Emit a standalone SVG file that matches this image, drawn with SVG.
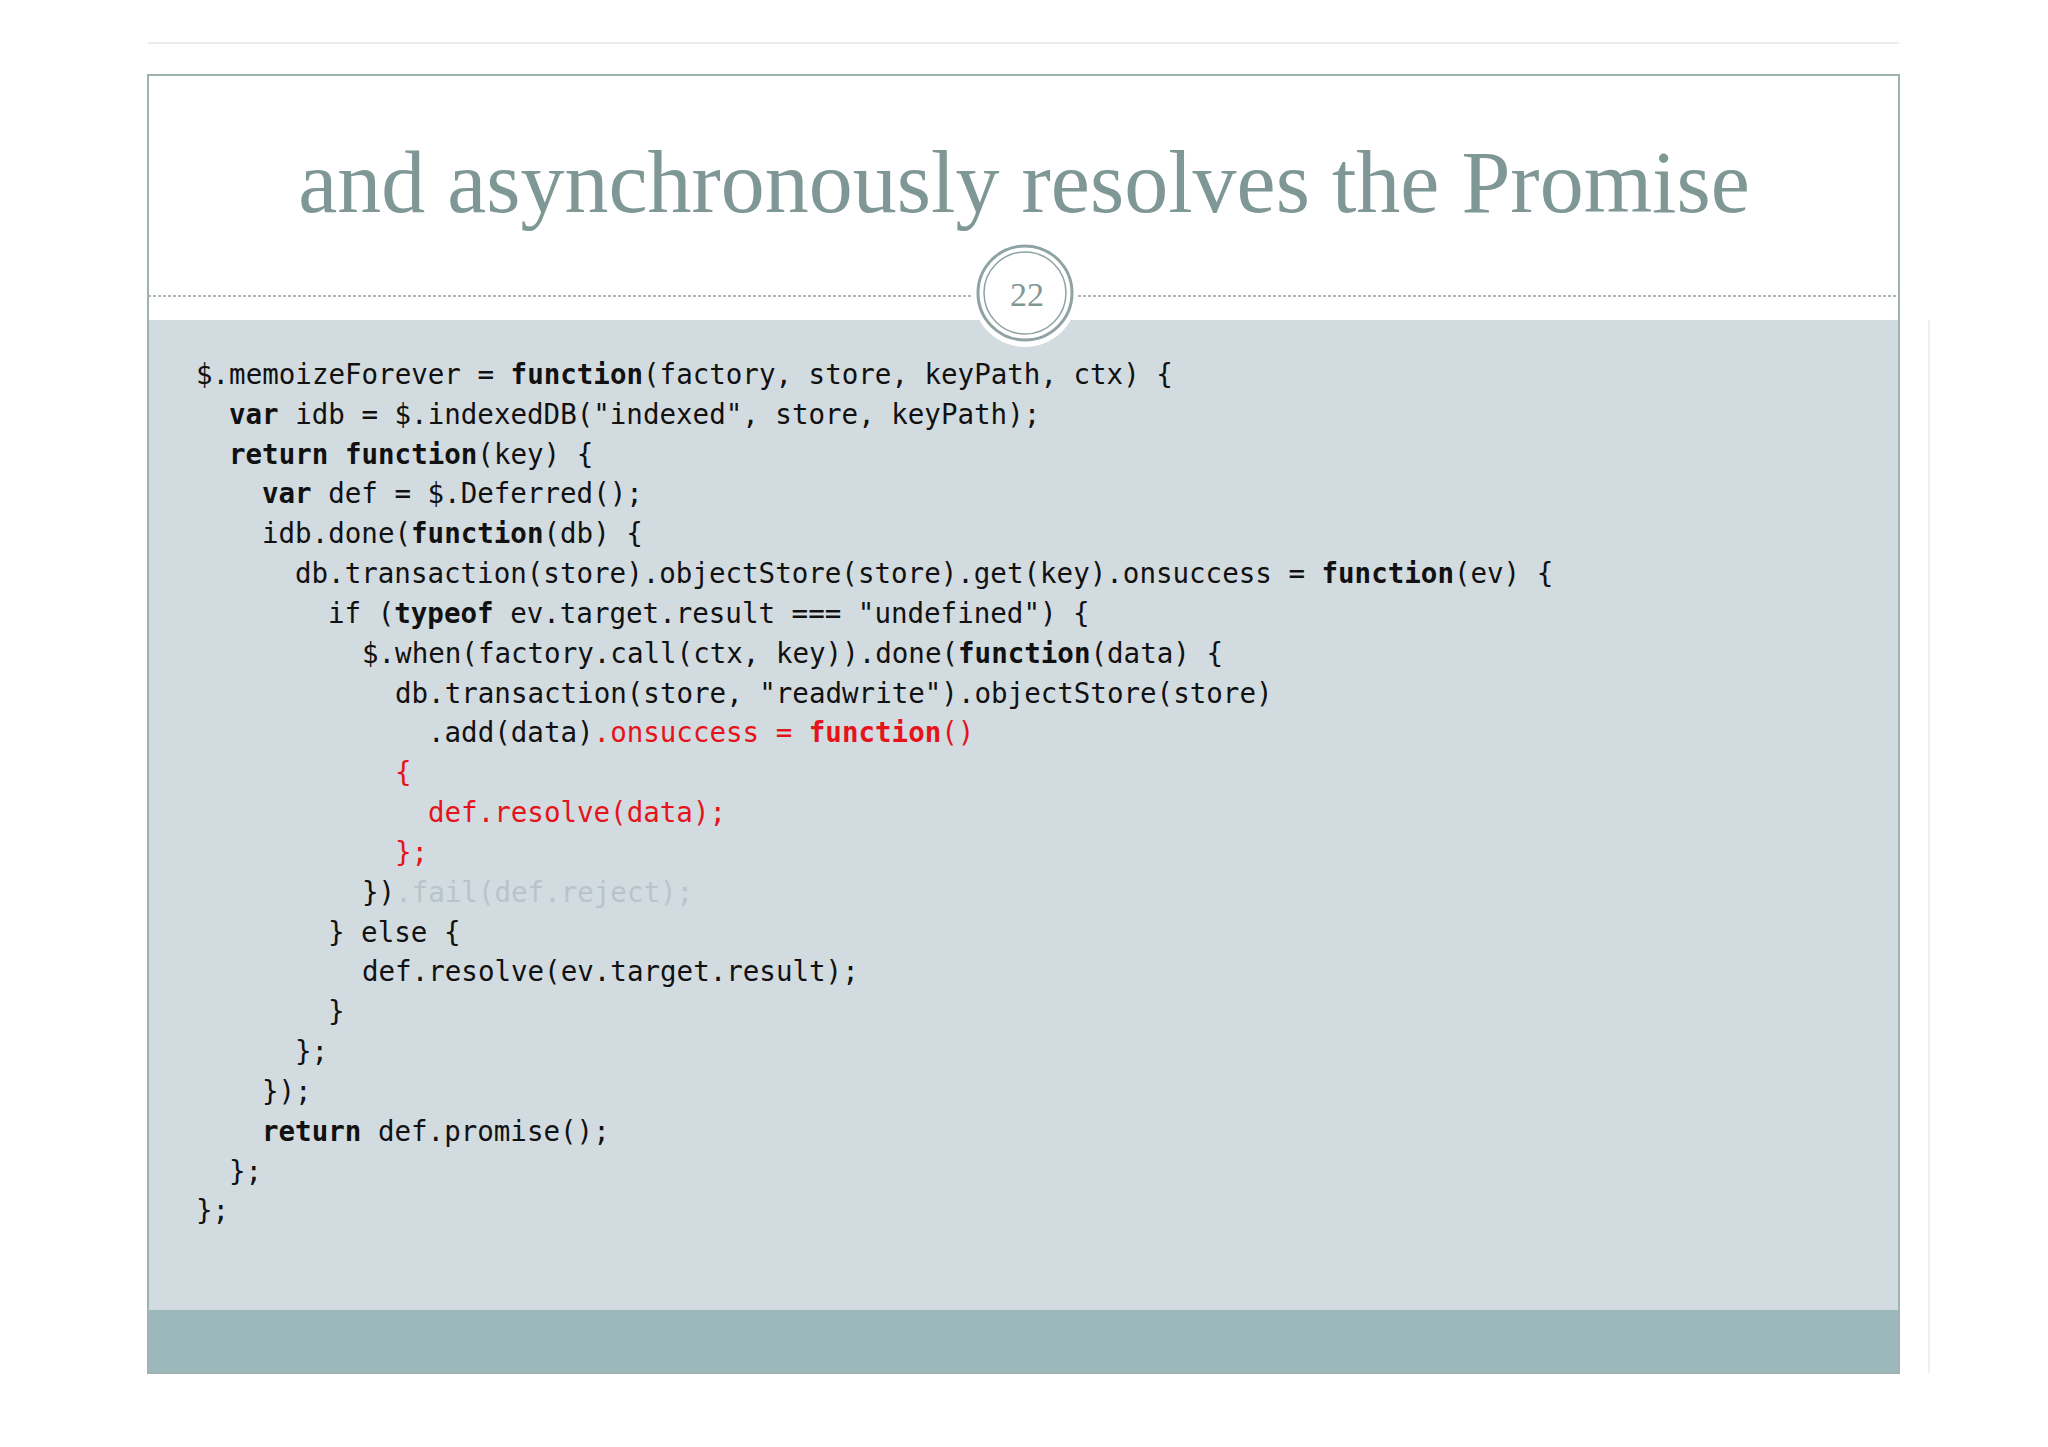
<svg xmlns="http://www.w3.org/2000/svg" width="2048" height="1447" viewBox="0 0 2048 1447">
<style>
.c{font-family:"DejaVu Sans Mono","Liberation Mono",monospace;font-size:27.5px;fill:#111}
.b{font-weight:bold}
.r{fill:#e5141b}
.f{fill:#b9c4ca}
</style>
<rect width="2048" height="1447" fill="#fff"/>
<line x1="148" y1="43" x2="1899" y2="43" stroke="#ececec" stroke-width="2"/>
<line x1="1929" y1="320" x2="1929" y2="1373" stroke="#efefef" stroke-width="2"/>
<rect x="148" y="320" width="1751" height="990" fill="#d1dbe0"/>
<rect x="148" y="1310" width="1751" height="63" fill="#9db8bb"/>
<rect x="148" y="75" width="1751" height="1298" fill="none" stroke="#9fb3b3" stroke-width="2"/>
<line x1="148" y1="296" x2="1899" y2="296" stroke="#8fa3a3" stroke-width="1.5" stroke-dasharray="3,2"/>
<g id="title"><text x="1024" y="212" text-anchor="middle" font-family="Liberation Serif,serif" font-size="88" fill="#7f9896">and asynchronously resolves the Promise</text></g>
<g id="badge">
<circle cx="1025" cy="295" r="52" fill="#fff"/>
<circle cx="1025" cy="293" r="47" fill="none" stroke="#8fa3a3" stroke-width="3"/>
<circle cx="1025" cy="293" r="41" fill="none" stroke="#8fa3a3" stroke-width="1.5"/>
<text x="1027" y="306" text-anchor="middle" font-family="Liberation Serif,serif" font-size="34" fill="#7f9896">22</text>
</g>
<g id="code" class="c">
<text x="196" y="384">$.memoizeForever = <tspan class="b">function</tspan>(factory, store, keyPath, ctx) {</text>
<text x="229" y="424"><tspan class="b">var</tspan> idb = $.indexedDB("indexed", store, keyPath);</text>
<text x="229" y="464"><tspan class="b">return</tspan> <tspan class="b">function</tspan>(key) {</text>
<text x="262" y="503"><tspan class="b">var</tspan> def = $.Deferred();</text>
<text x="262" y="543">idb.done(<tspan class="b">function</tspan>(db) {</text>
<text x="295" y="583">db.transaction(store).objectStore(store).get(key).onsuccess = <tspan class="b">function</tspan>(ev) {</text>
<text x="328" y="623">if (<tspan class="b">typeof</tspan> ev.target.result === "undefined") {</text>
<text x="362" y="663">$.when(factory.call(ctx, key)).done(<tspan class="b">function</tspan>(data) {</text>
<text x="395" y="703">db.transaction(store, "readwrite").objectStore(store)</text>
<text x="428" y="742">.add(data)<tspan class="r">.onsuccess = </tspan><tspan class="r b">function</tspan><tspan class="r">()</tspan></text>
<text x="395" y="782" class="r">{</text>
<text x="428" y="822" class="r">def.resolve(data);</text>
<text x="395" y="862" class="r">};</text>
<text x="362" y="902">})<tspan class="f">.fail(def.reject);</tspan></text>
<text x="328" y="942">} else {</text>
<text x="362" y="981">def.resolve(ev.target.result);</text>
<text x="328" y="1021">}</text>
<text x="295" y="1061">};</text>
<text x="262" y="1101">});</text>
<text x="262" y="1141"><tspan class="b">return</tspan> def.promise();</text>
<text x="229" y="1181">};</text>
<text x="196" y="1220">};</text>
</g>
</svg>
